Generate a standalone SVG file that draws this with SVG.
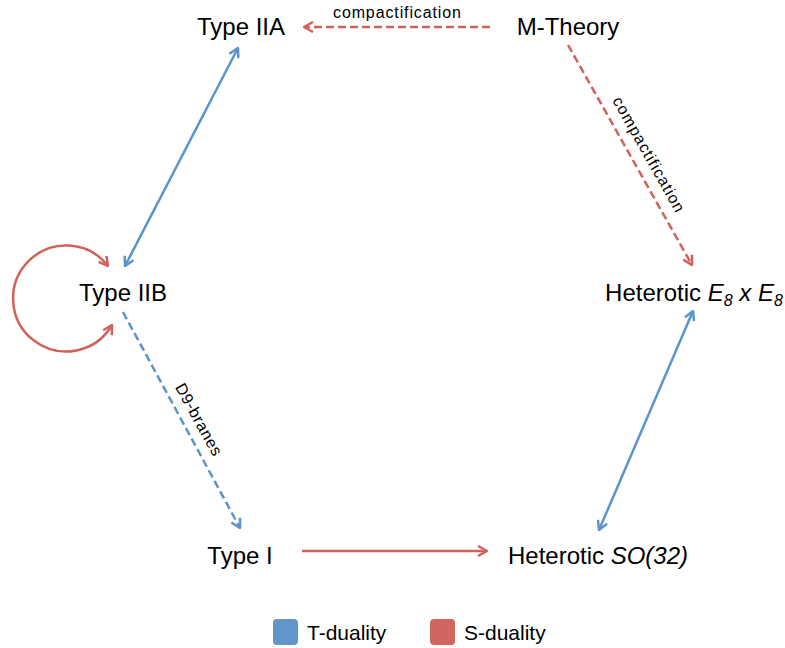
<svg xmlns="http://www.w3.org/2000/svg" width="785" height="648" viewBox="0 0 785 648">
<style>
.n{font-family:"Liberation Sans",Arial,sans-serif;font-size:24px;fill:#000}
.l{font-family:"Liberation Sans",Arial,sans-serif;font-size:16px;fill:#000}
.lg{font-family:"Liberation Sans",Arial,sans-serif;font-size:21px;fill:#000}
.it{font-style:italic}
.b{stroke:#5B94CC;stroke-width:2.5;fill:none}
.r{stroke:#D0625C;stroke-width:2.5;fill:none}
.d{stroke-dasharray:8 4}
</style>
<defs>
<marker id="ab" viewBox="0 0 12 12" refX="11" refY="6" markerWidth="12" markerHeight="12" markerUnits="userSpaceOnUse" orient="auto-start-reverse"><path d="M2,1 L11,6 L2,11" fill="none" stroke="#5B94CC" stroke-width="2.5"/></marker>
<marker id="ar" viewBox="0 0 12 12" refX="11" refY="6" markerWidth="12" markerHeight="12" markerUnits="userSpaceOnUse" orient="auto-start-reverse"><path d="M2,1 L11,6 L2,11" fill="none" stroke="#D0625C" stroke-width="2.5"/></marker>
</defs>
<g id="connectors">
<line class="r d" x1="490" y1="27" x2="304" y2="27" marker-end="url(#ar)"/>
<line class="r d" x1="568" y1="45" x2="692" y2="265" marker-end="url(#ar)"/>
<line class="b" x1="238" y1="48" x2="125" y2="266" marker-start="url(#ab)" marker-end="url(#ab)"/>
<line class="b d" x1="123" y1="312" x2="240" y2="528" marker-end="url(#ab)"/>
<line class="r" x1="302" y1="551" x2="487" y2="551" marker-end="url(#ar)"/>
<line class="b" x1="599" y1="530" x2="693" y2="311" marker-start="url(#ab)" marker-end="url(#ab)"/>
<path class="r" d="M112,325 A53,53 0 1 1 108,266" marker-start="url(#ar)" marker-end="url(#ar)"/>
<text class="l" x="397" y="18" text-anchor="middle" textLength="128">compactification</text>
<text class="l" transform="translate(644,157) rotate(60.5)" text-anchor="middle" textLength="130">compactification</text>
<text class="l" transform="translate(194,422) rotate(61.2)" text-anchor="middle" textLength="80">D9-branes</text>
</g>
<g id="typeIIA"><text class="n" x="241" y="35" text-anchor="middle">Type IIA</text></g>
<g id="mtheory"><text class="n" x="568" y="35" text-anchor="middle">M-Theory</text></g>
<g id="typeIIB"><text class="n" x="123" y="301" text-anchor="middle">Type IIB</text></g>
<g id="e8"><text class="n" x="694" y="301" text-anchor="middle">Heterotic <tspan class="it">E</tspan><tspan class="it" font-size="16" dy="5">8</tspan><tspan class="it" dy="-5"> x E</tspan><tspan class="it" font-size="16" dy="5">8</tspan></text></g>
<g id="typeI"><text class="n" x="240" y="564" text-anchor="middle">Type I</text></g>
<g id="so32"><text class="n" x="598" y="564" text-anchor="middle">Heterotic <tspan class="it">SO(32)</tspan></text></g>
<g id="legend">
<rect x="273" y="619" width="25" height="26" rx="4" fill="#6096CA"/>
<text class="lg" x="307" y="640">T-duality</text>
<rect x="430" y="619" width="25" height="26" rx="4" fill="#CF6660"/>
<text class="lg" x="464" y="640">S-duality</text>
</g>
</svg>
